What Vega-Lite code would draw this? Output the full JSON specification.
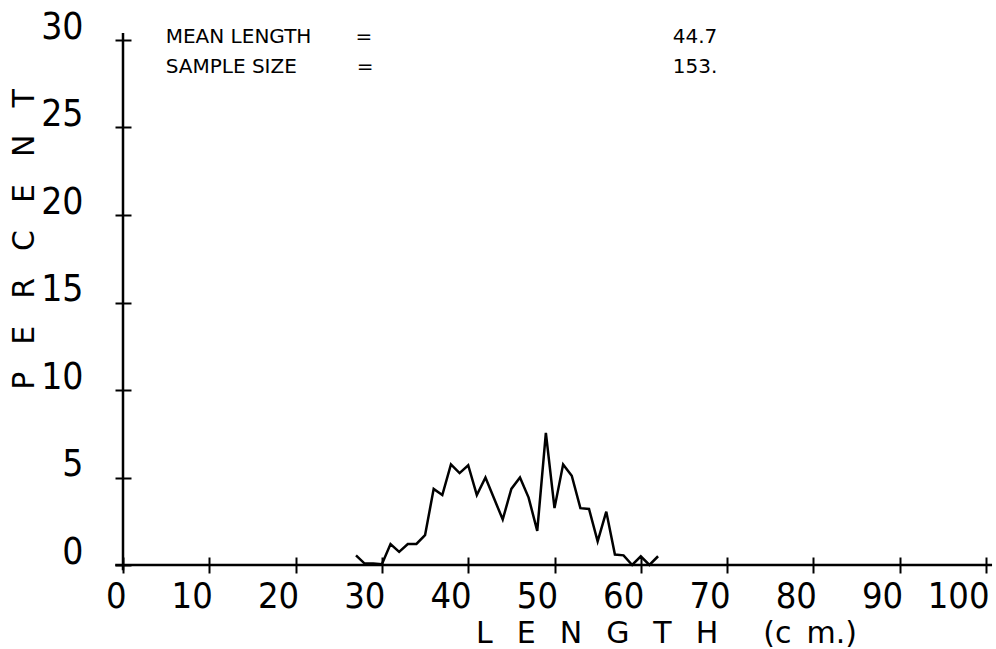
{
  "$schema": "https://vega.github.io/schema/vega-lite/v6.json",
  "width": 863,
  "height": 525,
  "autosize": {"type": "none"},
  "padding": {"left": 123, "top": 40, "right": 10, "bottom": 84},
  "background": "white",
  "config": {"view": {"stroke": null}},
  "layer": [
    {
      "data": {"values": [
        {"length": 27, "percent": 0.55},
        {"length": 28, "percent": 0.08},
        {"length": 29, "percent": 0.08},
        {"length": 30, "percent": 0.05},
        {"length": 31, "percent": 1.2},
        {"length": 32, "percent": 0.75},
        {"length": 33, "percent": 1.2},
        {"length": 34, "percent": 1.2},
        {"length": 35, "percent": 1.7},
        {"length": 36, "percent": 4.35},
        {"length": 37, "percent": 4.0},
        {"length": 38, "percent": 5.75},
        {"length": 39, "percent": 5.25},
        {"length": 40, "percent": 5.7},
        {"length": 41, "percent": 4.0},
        {"length": 42, "percent": 5.0},
        {"length": 43, "percent": 3.8},
        {"length": 44, "percent": 2.6},
        {"length": 45, "percent": 4.35},
        {"length": 46, "percent": 5.0},
        {"length": 47, "percent": 3.85},
        {"length": 48, "percent": 1.95},
        {"length": 49, "percent": 7.55},
        {"length": 50, "percent": 3.25},
        {"length": 51, "percent": 5.75},
        {"length": 52, "percent": 5.1},
        {"length": 53, "percent": 3.25},
        {"length": 54, "percent": 3.2},
        {"length": 55, "percent": 1.35},
        {"length": 56, "percent": 3.05},
        {"length": 57, "percent": 0.6},
        {"length": 58, "percent": 0.55},
        {"length": 59, "percent": 0.0},
        {"length": 60, "percent": 0.5},
        {"length": 61, "percent": 0.0},
        {"length": 62, "percent": 0.5}
      ]},
      "mark": {"type": "line", "color": "black", "strokeWidth": 2.5, "strokeJoin": "miter"},
      "encoding": {
        "x": {
          "field": "length", "type": "quantitative",
          "scale": {"domain": [0, 100], "nice": false, "zero": false},
          "axis": {
            "title": "L\u2002\u2009\u200aE\u2002\u2009\u200aN\u2002\u2009\u200aG\u2002\u2009\u200aT\u2002\u2009\u200aH\u2003\u2002(c\u2002m.)",
            "values": [0, 10, 20, 30, 40, 50, 60, 70, 80, 90, 100],
            "offset": -8,
            "tickSize": 16, "tickWidth": 2, "tickColor": "black",
            "domain": false, "grid": false,
            "labelFont": "'DejaVu Sans Condensed', 'Liberation Sans Narrow', 'DejaVu Sans', sans-serif",
            "labelFontSize": 36, "labelColor": "black",
            "labelAlign": "right", "labelBaseline": "alphabetic", "labelOffset": 3, "labelPadding": 34,
            "labelFlush": false, "labelOverlap": false,
            "titleFont": "DejaVu Sans", "titleFontSize": 30, "titleFontWeight": "normal", "titleColor": "black",
            "titleX": 543, "titleY": 85, "titleAlign": "center", "titleBaseline": "alphabetic"
          }
        },
        "y": {
          "field": "percent", "type": "quantitative",
          "scale": {"domain": [0, 30], "nice": false},
          "axis": {
            "title": "P\u2002\u2009\u2009E\u2002\u2009\u2009R\u2002\u2009\u2009C\u2002\u2009\u2009E\u2002\u2009\u2009N\u2002\u2009\u2009T",
            "values": [0, 5, 10, 15, 20, 25, 30],
            "offset": -8,
            "tickSize": 16, "tickWidth": 2, "tickColor": "black",
            "domain": false, "grid": false,
            "labelFont": "'DejaVu Sans Condensed', 'Liberation Sans Narrow', 'DejaVu Sans', sans-serif",
            "labelFontSize": 37, "labelColor": "black",
            "labelAlign": "right", "labelBaseline": "alphabetic", "labelOffset": -2, "labelPadding": 32,
            "labelFlush": false, "labelOverlap": false,
            "titleFont": "DejaVu Sans", "titleFontSize": 30, "titleFontWeight": "normal", "titleColor": "black",
            "titleAngle": -90,
            "titleX": -98, "titleY": 199, "titleAlign": "center", "titleBaseline": "alphabetic"
          }
        }
      }
    },
    {
      "data": {"values": [{}]},
      "mark": {"type": "rule", "color": "black", "strokeWidth": 2.5},
      "encoding": {"x": {"datum": -0.9}, "x2": {"datum": 100.7}, "y": {"datum": 0}}
    },
    {
      "data": {"values": [{}]},
      "mark": {"type": "rule", "color": "black", "strokeWidth": 2.5},
      "encoding": {"x": {"datum": 0}, "y": {"datum": -0.3}, "y2": {"datum": 30.4}}
    },
    {
      "data": {"values": [{"stat": "MEAN LENGTH\u2003\u2003\u2009=", "value": "44.7"}]},
      "layer": [
        {
          "mark": {"type": "text", "font": "DejaVu Sans", "fontSize": 20, "color": "black", "align": "left", "baseline": "alphabetic"},
          "encoding": {"x": {"datum": 4.95}, "y": {"datum": 29.83}, "text": {"field": "stat"}}
        },
        {
          "mark": {"type": "text", "font": "DejaVu Sans", "fontSize": 20, "color": "black", "align": "left", "baseline": "alphabetic"},
          "encoding": {"x": {"datum": 63.7}, "y": {"datum": 29.83}, "text": {"field": "value"}}
        }
      ]
    },
    {
      "data": {"values": [{"stat": "SAMPLE SIZE\u2003\u2003\u2003=", "value": "153."}]},
      "layer": [
        {
          "mark": {"type": "text", "font": "DejaVu Sans", "fontSize": 20, "color": "black", "align": "left", "baseline": "alphabetic"},
          "encoding": {"x": {"datum": 4.95}, "y": {"datum": 28.11}, "text": {"field": "stat"}}
        },
        {
          "mark": {"type": "text", "font": "DejaVu Sans", "fontSize": 20, "color": "black", "align": "left", "baseline": "alphabetic"},
          "encoding": {"x": {"datum": 63.7}, "y": {"datum": 28.11}, "text": {"field": "value"}}
        }
      ]
    }
  ]
}
